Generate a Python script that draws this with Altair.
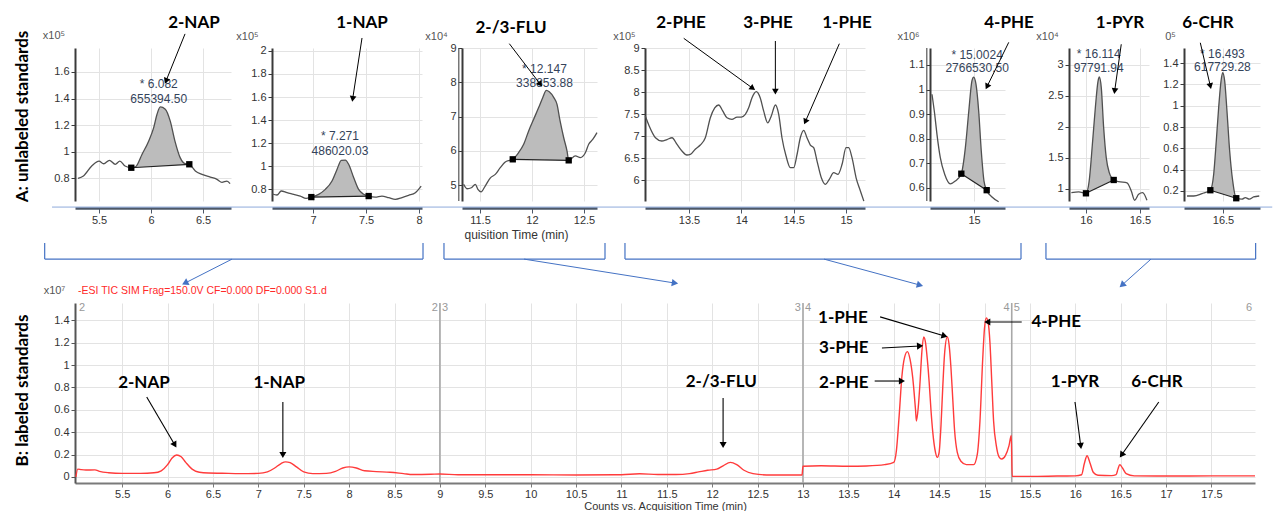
import math
import altair as alt
import pandas as pd

FONT = "Liberation Sans"
BOLD = "Lato"

# ---------------- A: unlabeled standards (zoomed panels) ----------------
# retention time (min) / counts in each panel's own x10^n unit
P1_T = [5.298, 5.35, 5.43, 5.50, 5.545, 5.60, 5.656, 5.70, 5.75, 5.81, 5.85, 5.913, 5.977, 6.025, 6.057,
        6.089, 6.137, 6.185, 6.23, 6.28, 6.33, 6.368, 6.426, 6.49, 6.57, 6.634, 6.682, 6.73, 6.76]
P1_V = [0.80, 0.818, 0.893, 0.93, 0.91, 0.936, 0.906, 0.93, 0.893, 0.88, 0.886, 0.98, 1.08, 1.18, 1.28,
        1.337, 1.32, 1.23, 1.08, 0.956, 0.91, 0.906, 0.856, 0.83, 0.81, 0.793, 0.77, 0.78, 0.76]
P2_T = [6.613, 6.66, 6.70, 6.755, 6.818, 6.88, 6.934, 6.984, 7.053, 7.116, 7.179, 7.226, 7.267, 7.305,
        7.336, 7.384, 7.43, 7.478, 7.525, 7.587, 7.65, 7.714, 7.776, 7.84, 7.902, 7.965, 8.02]
P2_V = [0.759, 0.748, 0.783, 0.768, 0.754, 0.739, 0.719, 0.73, 0.754, 0.797, 0.87, 0.97, 1.05, 1.052,
        1.015, 0.898, 0.797, 0.754, 0.739, 0.73, 0.739, 0.725, 0.71, 0.725, 0.745, 0.768, 0.826]
P3_T = [11.343, 11.375, 11.417, 11.455, 11.48, 11.51, 11.55, 11.60, 11.647, 11.695, 11.743, 11.782,
        11.815, 11.87, 11.92, 11.968, 12.016, 12.064, 12.103, 12.138, 12.166, 12.21, 12.24, 12.27,
        12.305, 12.337, 12.353, 12.417, 12.465, 12.513, 12.545, 12.584, 12.625]
P3_V = [5.02, 4.89, 4.92, 5.02, 4.87, 4.80, 4.97, 5.21, 5.31, 5.505, 5.67, 5.72, 5.75, 5.94, 6.19, 6.58,
        6.92, 7.26, 7.55, 7.76, 7.72, 7.55, 7.36, 6.87, 6.38, 5.99, 5.72, 5.85, 5.80, 5.94, 6.19, 6.33, 6.53]
P4_T = [13.083, 13.12, 13.18, 13.24, 13.29, 13.338, 13.386, 13.433, 13.48, 13.513, 13.56, 13.608, 13.656,
        13.704, 13.746, 13.784, 13.822, 13.863, 13.91, 13.959, 14.0, 14.038, 14.07, 14.102, 14.143, 14.18,
        14.213, 14.252, 14.286, 14.325, 14.357, 14.388, 14.427, 14.468, 14.50, 14.532, 14.563, 14.596,
        14.627, 14.659, 14.691, 14.723, 14.764, 14.802, 14.84, 14.882, 14.923, 14.962, 15.0, 15.025,
        15.057, 15.096, 15.137, 15.17]
P4_V = [7.455, 7.227, 6.96, 6.886, 6.92, 6.96, 6.81, 6.66, 6.568, 6.58, 6.70, 6.795, 6.96, 7.416, 7.64,
        7.705, 7.57, 7.416, 7.38, 7.43, 7.43, 7.49, 7.64, 7.87, 8.007, 7.87, 7.57, 7.30, 7.455, 7.705, 7.49,
        6.96, 6.545, 6.28, 6.28, 6.58, 6.96, 7.13, 6.96, 6.795, 6.735, 6.43, 6.05, 5.90, 6.015, 6.166, 6.13,
        6.357, 6.735, 6.735, 6.507, 6.05, 5.75, 5.52]
P5_T = [14.596, 14.622, 14.644, 14.676, 14.718, 14.772, 14.82, 14.878, 14.917, 14.95, 14.98, 14.997,
        15.019, 15.045, 15.07, 15.096, 15.122, 15.173, 15.237]
P5_V = [0.981, 0.90, 0.818, 0.723, 0.656, 0.617, 0.628, 0.658, 0.764, 0.913, 1.035, 1.051, 1.022, 0.913,
        0.75, 0.628, 0.591, 0.563, 0.544]
P6_T = [15.865, 15.933, 16.0, 16.03, 16.062, 16.087, 16.112, 16.124, 16.142, 16.164, 16.188, 16.216,
        16.257, 16.303, 16.38, 16.42, 16.451, 16.488, 16.525, 16.565]
P6_V = [0.94, 0.952, 0.93, 1.13, 1.774, 2.31, 2.74, 2.806, 2.634, 1.989, 1.505, 1.263, 1.145, 1.118,
        1.10, 0.968, 0.818, 0.915, 0.94, 0.818]
P7_T = [16.167, 16.229, 16.306, 16.383, 16.414, 16.438, 16.46, 16.482, 16.497, 16.516, 16.537, 16.562,
        16.59, 16.623, 16.676, 16.707, 16.744, 16.784, 16.836]
P7_V = [0.153, 0.153, 0.175, 0.207, 0.357, 0.669, 0.981, 1.231, 1.309, 1.231, 0.95, 0.575, 0.294, 0.132,
        0.123, 0.138, 0.123, 0.144, 0.153]

# integration start / end markers (time, value)
P1_MK = [[5.81, 6.368], [0.88, 0.906]]
P2_MK = [[6.984, 7.525], [0.73, 0.739]]
P3_MK = [[11.815, 12.353], [5.75, 5.72]]
P5_MK = [[14.878, 15.122], [0.658, 0.591]]
P6_MK = [[16.0, 16.257], [0.93, 1.145]]
P7_MK = [[16.383, 16.623], [0.207, 0.132]]

# peak read-outs
P1_PEAK = ["* 6.082", "655394.50"]
P2_PEAK = ["* 7.271", "486020.03"]
P3_PEAK = ["* 12.147", "338853.88"]
P5_PEAK = ["* 15.0024", "2766530.50"]
P6_PEAK = ["* 16.114", "97791.94"]
P7_PEAK = ["* 16.493", "617729.28"]

# axis domains and ticks of each panel
P1_XDOM, P1_YDOM = [5.269, 6.769], [0.63, 1.78]
P2_XDOM, P2_YDOM = [6.613, 8.028], [0.696, 2.026]
P3_XDOM, P3_YDOM = [11.327, 12.625], [4.533, 9.0]
P4_XDOM, P4_YDOM = [13.08, 15.181], [5.523, 9.0]
P5_XDOM, P5_YDOM = [14.577, 15.298], [0.547, 1.169]
P6_XDOM, P6_YDOM = [15.843, 16.584], [0.806, 3.274]
P7_XDOM, P7_YDOM = [16.139, 16.843], [0.106, 1.541]
P1_XT, P1_YT = [5.5, 6, 6.5], [0.8, 1, 1.2, 1.4, 1.6]
P2_XT, P2_YT = [7, 7.5, 8], [0.8, 1, 1.2, 1.4, 1.6, 1.8, 2]
P3_XT, P3_YT = [11.5, 12, 12.5], [5, 6, 7, 8, 9]
P4_XT, P4_YT = [13.5, 14, 14.5, 15], [6, 6.5, 7, 7.5, 8, 8.5, 9]
P5_XT, P5_YT = [15], [0.6, 0.7, 0.8, 0.9, 1, 1.1]
P6_XT, P6_YT = [16, 16.5], [1, 1.5, 2, 2.5, 3]
P7_XT, P7_YT = [16.5], [0.2, 0.4, 0.6, 0.8, 1, 1.2, 1.4]
P_UNITS = ["x10⁵", "x10⁵", "x10⁴", "x10⁵", "x10⁶", "x10⁴", "0⁵"]

# ---------------- B: labeled standards (TIC, x10^7) ----------------
B_T = [4.99, 5.01, 5.05, 5.1, 5.2, 5.25, 5.35, 5.5, 5.7, 5.85,
       5.93, 6.0, 6.05, 6.1, 6.15, 6.2, 6.27, 6.35, 6.45, 6.6,
       6.8, 7.0, 7.1, 7.18, 7.25, 7.3, 7.35, 7.42, 7.5, 7.6,
       7.75, 7.85, 7.93, 8.0, 8.08, 8.17, 8.3, 8.45, 8.6, 8.7,
       8.9, 9.0, 9.2, 9.6, 10.0, 10.5, 11.0, 11.2, 11.4, 11.6,
       11.75, 11.85, 11.95, 12.05, 12.12, 12.2, 12.27, 12.35, 12.45, 12.6,
       12.8, 12.99, 13.0, 13.2, 13.5, 13.7, 13.9, 14.0, 14.03, 14.06,
       14.09, 14.12, 14.15, 14.18, 14.21, 14.24, 14.25, 14.27, 14.29, 14.31,
       14.33, 14.35, 14.37, 14.39, 14.41, 14.43, 14.46, 14.48, 14.50, 14.52,
       14.54, 14.56, 14.59, 14.61, 14.63, 14.65, 14.67, 14.70, 14.74, 14.80,
       14.88, 14.92, 14.95, 14.98, 15.0, 15.02, 15.04, 15.06, 15.08, 15.10,
       15.13, 15.16, 15.19, 15.23, 15.27, 15.295, 15.305, 15.5, 15.8, 16.0,
       16.07, 16.1, 16.13, 16.16, 16.2, 16.25, 16.4, 16.45, 16.47, 16.49,
       16.52, 16.56, 16.65, 17.0, 17.5, 17.98]
B_V = [0.0, 0.07, 0.065, 0.062, 0.063, 0.05, 0.038, 0.032, 0.032, 0.037,
       0.055, 0.11, 0.17, 0.196, 0.18, 0.13, 0.07, 0.042, 0.035, 0.033,
       0.03, 0.032, 0.045, 0.08, 0.12, 0.135, 0.128, 0.09, 0.045, 0.03,
       0.032, 0.05, 0.08, 0.09, 0.08, 0.055, 0.048, 0.042, 0.03, 0.022,
       0.024, 0.027, 0.02, 0.02, 0.02, 0.018, 0.02, 0.028, 0.022, 0.022,
       0.03, 0.045, 0.06, 0.07, 0.1, 0.13, 0.11, 0.06, 0.03, 0.018,
       0.018, 0.018, 0.095, 0.1, 0.095, 0.098, 0.11, 0.13, 0.24, 0.55,
       0.9, 1.07, 1.12, 1.05, 0.88, 0.6, 0.5, 0.62, 0.85, 1.12,
       1.25, 1.2, 1.05, 0.85, 0.6, 0.4, 0.22, 0.175, 0.22, 0.45,
       0.8, 1.1, 1.25, 1.18, 0.98, 0.7, 0.42, 0.22, 0.14, 0.11,
       0.11, 0.2, 0.5, 1.05, 1.33, 1.42, 1.38, 1.2, 0.85, 0.5,
       0.28, 0.18, 0.16, 0.19, 0.28, 0.37, 0.005, 0.005, 0.008, 0.01,
       0.02, 0.12, 0.19, 0.13, 0.04, 0.015, 0.012, 0.02, 0.07, 0.11,
       0.08, 0.03, 0.01, 0.008, 0.01, 0.01]
B_XDOM, B_YDOM = [4.98, 17.98], [-0.054, 1.554]
B_XT = [5.5, 6, 6.5, 7, 7.5, 8, 8.5, 9, 9.5, 10, 10.5, 11, 11.5, 12, 12.5, 13, 13.5, 14, 14.5, 15,
        15.5, 16, 16.5, 17, 17.5]
B_YT = [0, 0.2, 0.4, 0.6, 0.8, 1, 1.2, 1.4]
SEG_T = [9, 13, 15.3]
SEG_LEFT = ["2", "3", "4"]
SEG_RIGHT = ["3", "4", "5"]
B_TITLE = "-ESI TIC SIM Frag=150.0V CF=0.000 DF=0.000 S1.d"

# ---------------- layout ----------------
H_TOP = 153
W = [156, 150, 135, 220, 75, 80, 76]
GAPS = [41, 40, 48, 65, 64, 35]
W_B, H_B = 1180, 180
VSPACE = -35

BLUE = "#4472c4"
GRID = "#e3e3e3"


def sc(dom):
    return alt.Scale(domain=dom, nice=False, zero=False)


class Frame:
    """Shared scales and axes of one panel; every layer uses the same definitions."""

    def __init__(self, xdom, ydom, w, h, xaxis, yaxis):
        self.xs, self.ys = sc(xdom), sc(ydom)
        self.xa, self.ya = xaxis, yaxis
        self.sx = w / (xdom[1] - xdom[0])
        self.sy = h / (ydom[1] - ydom[0])

    def x(self, f):
        return alt.X(f, scale=self.xs, axis=self.xa)

    def y(self, f):
        return alt.Y(f, scale=self.ys, axis=self.ya)


def txt(fr, x, y, labels, **kw):
    df = pd.DataFrame({"x": x, "y": y, "label": labels})
    return alt.Chart(df).mark_text(**kw).encode(x=fr.x("x:Q"), y=fr.y("y:Q"), text="label:N")


def arrows(fr, x, y, x2, y2, color="black", sw=1.0, size=40):
    ang = [math.degrees(math.atan2((b - a) * fr.sx, (d - c) * fr.sy)) % 360
           for a, b, c, d in zip(x, x2, y, y2)]
    df = pd.DataFrame({"x": x, "y": y, "x2": x2, "y2": y2, "ang": ang})
    shaft = alt.Chart(df).mark_rule(color=color, strokeWidth=sw).encode(
        x=fr.x("x:Q"), y=fr.y("y:Q"), x2="x2:Q", y2="y2:Q")
    head = alt.Chart(df).mark_point(shape="triangle-up", filled=True, size=size, color=color, opacity=1,
                                    strokeWidth=0).encode(
        x=fr.x("x2:Q"), y=fr.y("y2:Q"), angle=alt.Angle("ang:Q", scale=None))
    return [shaft, head]


def panel(T, V, xdom, ydom, w, xt, yt, unit, unit_dx, mk=None, peak=None, peak_pos=None,
          names=None, arrs=None, xtitle=None, first=False, double_axis=False):
    xaxis_kw = dict(values=xt, format="~g", offset=7, domainColor="#4d5868", domainWidth=2.5,
                    tickColor="#4d5868", tickSize=5, labelFontSize=11, labelColor="#333", labelPadding=1,
                    grid=True, gridColor=GRID, labelFont=FONT)
    if xtitle:
        xaxis_kw.update(title=xtitle, titleFontSize=12, titleFontWeight="normal", titleColor="#333",
                        titleFont=FONT, titleX=54, titleY=26, titleBaseline="middle", titleAlign="center")
    else:
        xaxis_kw.update(title=None)
    yaxis_kw = dict(values=yt, format="~g", domainColor="#3a3a3a", domainWidth=2, tickColor="#3a3a3a",
                    tickSize=4, labelFontSize=11, labelColor="#333", labelPadding=2, grid=True,
                    gridColor=GRID, labelFont=FONT)
    if first:
        yaxis_kw.update(title="A: unlabeled standards", titleAngle=270, titleX=-53, titleY=68,
                        titleAlign="center", titleBaseline="middle", titleFont=BOLD, titleFontSize=17,
                        titleFontWeight="bold", titleColor="black")
    else:
        yaxis_kw.update(title=unit, titleAngle=0, titleX=unit_dx, titleY=-12, titleAlign="center",
                        titleBaseline="middle", titleFont=FONT, titleFontSize=11, titleFontWeight="normal",
                        titleColor="#555")
    fr = Frame(xdom, ydom, w, H_TOP, alt.Axis(**xaxis_kw), alt.Axis(**yaxis_kw))
    layers = []
    if double_axis:
        # second thin line drawn just left of the y axis, as in the instrument software
        layers.append(alt.Chart(pd.DataFrame({"t": [xdom[0] - 3.2 / fr.sx]})).mark_rule(
            color="#555", strokeWidth=1.2).encode(x=fr.x("t:Q")))
    if mk is not None:
        (t0, t1), (b0, b1) = mk
        adf = pd.DataFrame({"t": T, "v": V})
        adf = adf[(adf.t >= t0) & (adf.t <= t1)].copy()
        adf["b"] = b0 + (adf.t - t0) * (b1 - b0) / (t1 - t0)
        layers.append(alt.Chart(adf).mark_area(color="#bcbcbc", opacity=1, interpolate="monotone").encode(
            x=fr.x("t:Q"), y=fr.y("v:Q"), y2="b:Q"))
    layers.append(alt.Chart(pd.DataFrame({"t": T, "v": V})).mark_line(
        color="#505050", strokeWidth=1.3, interpolate="monotone").encode(x=fr.x("t:Q"), y=fr.y("v:Q")))
    if mk is not None:
        (t0, t1), (b0, b1) = mk
        mdf = pd.DataFrame({"t": [t0], "v": [b0], "t2": [t1], "v2": [b1]})
        layers.append(alt.Chart(mdf).mark_rule(color="#222", strokeWidth=1.2).encode(
            x=fr.x("t:Q"), y=fr.y("v:Q"), x2="t2:Q", y2="v2:Q"))
        layers.append(alt.Chart(pd.DataFrame({"t": [t0, t1], "v": [b0, b1]})).mark_square(
            size=40, color="black", opacity=1).encode(x=fr.x("t:Q"), y=fr.y("v:Q")))
    if peak is not None:
        px, py1, py2 = peak_pos
        layers.append(txt(fr, [px, px], [py1, py2], peak, font=FONT, fontSize=12, color="#34435a",
                          align="center", baseline="middle"))
    if names is not None:
        layers.append(txt(fr, names[0], names[1], names[2], font=BOLD, fontSize=17, fontWeight="bold",
                          color="black", align="center", baseline="middle"))
    if arrs is not None:
        layers += arrows(fr, *arrs, color="black", sw=1.0, size=45)
    if first:
        layers.append(txt(fr, [5.067], [1.871], [unit], font=FONT, fontSize=11, color="#555",
                          align="center", baseline="middle"))
    return alt.layer(*layers).properties(width=w, height=H_TOP)


def spacer(g):
    return alt.Chart(pd.DataFrame({"s": [0]})).mark_point(opacity=0).encode(
        x=alt.value(0), y=alt.value(0)).properties(width=g, height=H_TOP)


p1 = panel(P1_T, P1_V, P1_XDOM, P1_YDOM, W[0], P1_XT, P1_YT, P_UNITS[0], 0, mk=P1_MK,
           peak=P1_PEAK, peak_pos=(6.074, 1.507, 1.395),
           names=([6.413], [1.968], ["2-NAP"]),
           arrs=([6.327], [1.886], [6.144], [1.532]), first=True)
p2 = panel(P2_T, P2_V, P2_XDOM, P2_YDOM, W[1], P2_XT, P2_YT, P_UNITS[1], -25, mk=P2_MK,
           peak=P2_PEAK, peak_pos=(7.254, 1.261, 1.13),
           names=([7.462], [2.243], ["1-NAP"]),
           arrs=([7.462], [2.113], [7.374], [1.583]))
p3 = panel(P3_T, P3_V, P3_XDOM, P3_YDOM, W[2], P3_XT, P3_YT, P_UNITS[2], -26, mk=P3_MK,
           peak=P3_PEAK, peak_pos=(12.12, 8.378, 7.987),
           names=([11.798], [9.584], ["2-/3-FLU"]),
           arrs=([11.782], [9.126], [12.08], [7.94]), xtitle="quisition Time (min)", double_axis=True)
p4 = panel(P4_T, P4_V, P4_XDOM, P4_YDOM, W[3], P4_XT, P4_YT, P_UNITS[3], -21,
           names=([13.424, 14.255, 15.009], [9.557, 9.557, 9.557], ["2-PHE", "3-PHE", "1-PHE"]),
           arrs=([13.45, 14.325, 14.936], [9.22, 9.159, 9.098], [14.109, 14.325, 14.611],
                 [8.084, 8.007, 7.325]))
p5 = panel(P5_T, P5_V, P5_XDOM, P5_YDOM, W[4], P5_XT, P5_YT, P_UNITS[4], -22, mk=P5_MK,
           peak=P5_PEAK, peak_pos=(15.03, 1.141, 1.089),
           names=([15.337], [1.271], ["4-PHE"]),
           arrs=([15.334], [1.192], [15.125], [1.012]), double_axis=True)
p6 = panel(P6_T, P6_V, P6_XDOM, P6_YDOM, W[5], P6_XT, P6_YT, P_UNITS[5], -22, mk=P6_MK,
           peak=P6_PEAK, peak_pos=(16.118, 3.18, 2.956),
           names=([16.315], [3.677], ["1-PYR"]),
           arrs=([16.327], [3.334], [16.266], [2.58]))
p7 = panel(P7_T, P7_V, P7_XDOM, P7_YDOM, W[6], P7_XT, P7_YT, P_UNITS[6], -14, mk=P7_MK,
           peak=P7_PEAK, peak_pos=(16.495, 1.487, 1.362),
           names=([16.361], [1.775], ["6-CHR"]),
           arrs=([16.29], [1.59], [16.383], [1.184]))

cells = [p1, spacer(GAPS[0]), p2, spacer(GAPS[1]), p3, spacer(GAPS[2]), p4, spacer(GAPS[3]), p5,
         spacer(GAPS[4]), p6, spacer(GAPS[5]), p7]
top = alt.hconcat(*cells, spacing=0, bounds="flush")

# ---------------- bottom chart ----------------
bx_axis = alt.Axis(values=B_XT, format="~g", domainColor="#7a7a7a", domainWidth=2, tickColor="#7a7a7a",
                   tickSize=4, labelFontSize=11, labelColor="#333", labelPadding=1, grid=True, gridColor=GRID,
                   labelFont=FONT, title="Counts vs. Acquisition Time (min)", titleFont=FONT,
                   titleFontSize=11, titleFontWeight="normal", titleColor="#333", titlePadding=1)
by_axis = alt.Axis(values=B_YT, format="~g", domainColor="#555", domainWidth=2, tickColor="#555", tickSize=4,
                   labelFontSize=11, labelColor="#333", labelPadding=2, grid=True, gridColor=GRID,
                   labelFont=FONT, title="B: labeled standards", titleAngle=270, titleX=-53, titleY=87,
                   titleAlign="center", titleBaseline="middle", titleFont=BOLD, titleFontSize=17,
                   titleFontWeight="bold", titleColor="black")
bf = Frame(B_XDOM, B_YDOM, W_B, H_B, bx_axis, by_axis)

b_layers = []
b_layers.append(alt.Chart(pd.DataFrame({"t": SEG_T})).mark_rule(color="#a8a8a8", strokeWidth=1.6).encode(
    x=bf.x("t:Q")))
b_layers.append(alt.Chart(pd.DataFrame({"t": B_T, "v": B_V})).mark_line(
    color="#ff3b3b", strokeWidth=1.4, interpolate="monotone").encode(x=bf.x("t:Q"), y=bf.y("v:Q")))
seg_y = 1.513
b_layers.append(txt(bf, SEG_T, [seg_y] * 3, SEG_LEFT, font=FONT, fontSize=11, color="#999",
                    align="right", baseline="middle", dx=-2))
b_layers.append(txt(bf, SEG_T, [seg_y] * 3, SEG_RIGHT, font=FONT, fontSize=11, color="#999",
                    align="left", baseline="middle", dx=2))
b_layers.append(txt(bf, [B_XDOM[0]], [seg_y], ["2"], font=FONT, fontSize=11, color="#999",
                    align="left", baseline="middle", dx=4))
b_layers.append(txt(bf, [B_XDOM[1]], [seg_y], ["6"], font=FONT, fontSize=11, color="#999",
                    align="right", baseline="middle", dx=-3))
b_layers.append(txt(bf, [5.013], [1.663], [B_TITLE], font=FONT, fontSize=10.5, color="#ff2a2a",
                    align="left", baseline="middle"))
b_layers.append(txt(bf, [4.754], [1.663], ["x10⁷"], font=FONT, fontSize=11, color="#555",
                    align="center", baseline="middle"))
# peak names and arrows
b_layers.append(txt(bf, [5.74, 7.23, 12.10, 13.44, 13.45, 13.45, 15.79, 15.997, 16.9],
                    [0.84, 0.84, 0.85, 1.42, 1.152, 0.84, 1.384, 0.848, 0.848],
                    ["2-NAP", "1-NAP", "2-/3-FLU", "1-PHE", "3-PHE", "2-PHE", "4-PHE", "1-PYR", "6-CHR"],
                    font=BOLD, fontSize=17, fontWeight="bold", color="black",
                    align="center", baseline="middle"))
b_layers += arrows(bf, [5.77, 7.27, 12.12, 13.85, 13.87, 13.79, 15.41, 15.997, 16.92],
                   [0.714, 0.67, 0.705, 1.43, 1.152, 0.857, 1.384, 0.67, 0.67],
                   [6.08, 7.27, 12.12, 14.56, 14.29, 14.09, 15.03, 16.06, 16.51],
                   [0.286, 0.196, 0.286, 1.26, 1.17, 0.857, 1.384, 0.277, 0.196],
                   color="black", sw=1.1, size=50)
# separator line, zoom brackets and their arrows (blue)
b_layers.append(alt.Chart(pd.DataFrame({"x": [4.727], "x2": [18.17], "y": [2.411]})).mark_rule(
    color="#8eaadb", strokeWidth=1).encode(x=bf.x("x:Q"), x2="x2:Q", y=bf.y("y:Q")))
BR_L = [4.646, 9.045, 11.039, 15.677]
BR_R = [8.814, 10.819, 15.402, 17.987]
v_top, v_bot = 2.089, 1.946
seg_x, seg_y0, seg_x2, seg_y1 = [], [], [], []
for l, r in zip(BR_L, BR_R):
    seg_x += [l, l, r]
    seg_x2 += [l, r, r]
    seg_y0 += [v_top, v_bot, v_bot]
    seg_y1 += [v_bot, v_bot, v_top]
b_layers.append(alt.Chart(pd.DataFrame({"x": seg_x, "x2": seg_x2, "y": seg_y0, "y2": seg_y1})).mark_rule(
    color=BLUE, strokeWidth=1.2).encode(x=bf.x("x:Q"), y=bf.y("y:Q"), x2="x2:Q", y2="y2:Q"))
b_layers += arrows(bf, [6.710, 9.927, 13.232, 16.834], [v_bot] * 4,
                   [6.192, 11.590, 14.289, 16.515], [1.732, 1.732, 1.714, 1.714],
                   color=BLUE, sw=1.0, size=55)

bottom = alt.layer(*b_layers).properties(width=W_B, height=H_B)

chart = alt.vconcat(top, bottom, spacing=VSPACE).properties(
    padding={"left": 4, "top": 5, "right": 2, "bottom": 0}
).configure(font=FONT, view=alt.ViewConfig(stroke="transparent"))

chart.save("out.html", embed_options={"renderer": "svg", "actions": False})
